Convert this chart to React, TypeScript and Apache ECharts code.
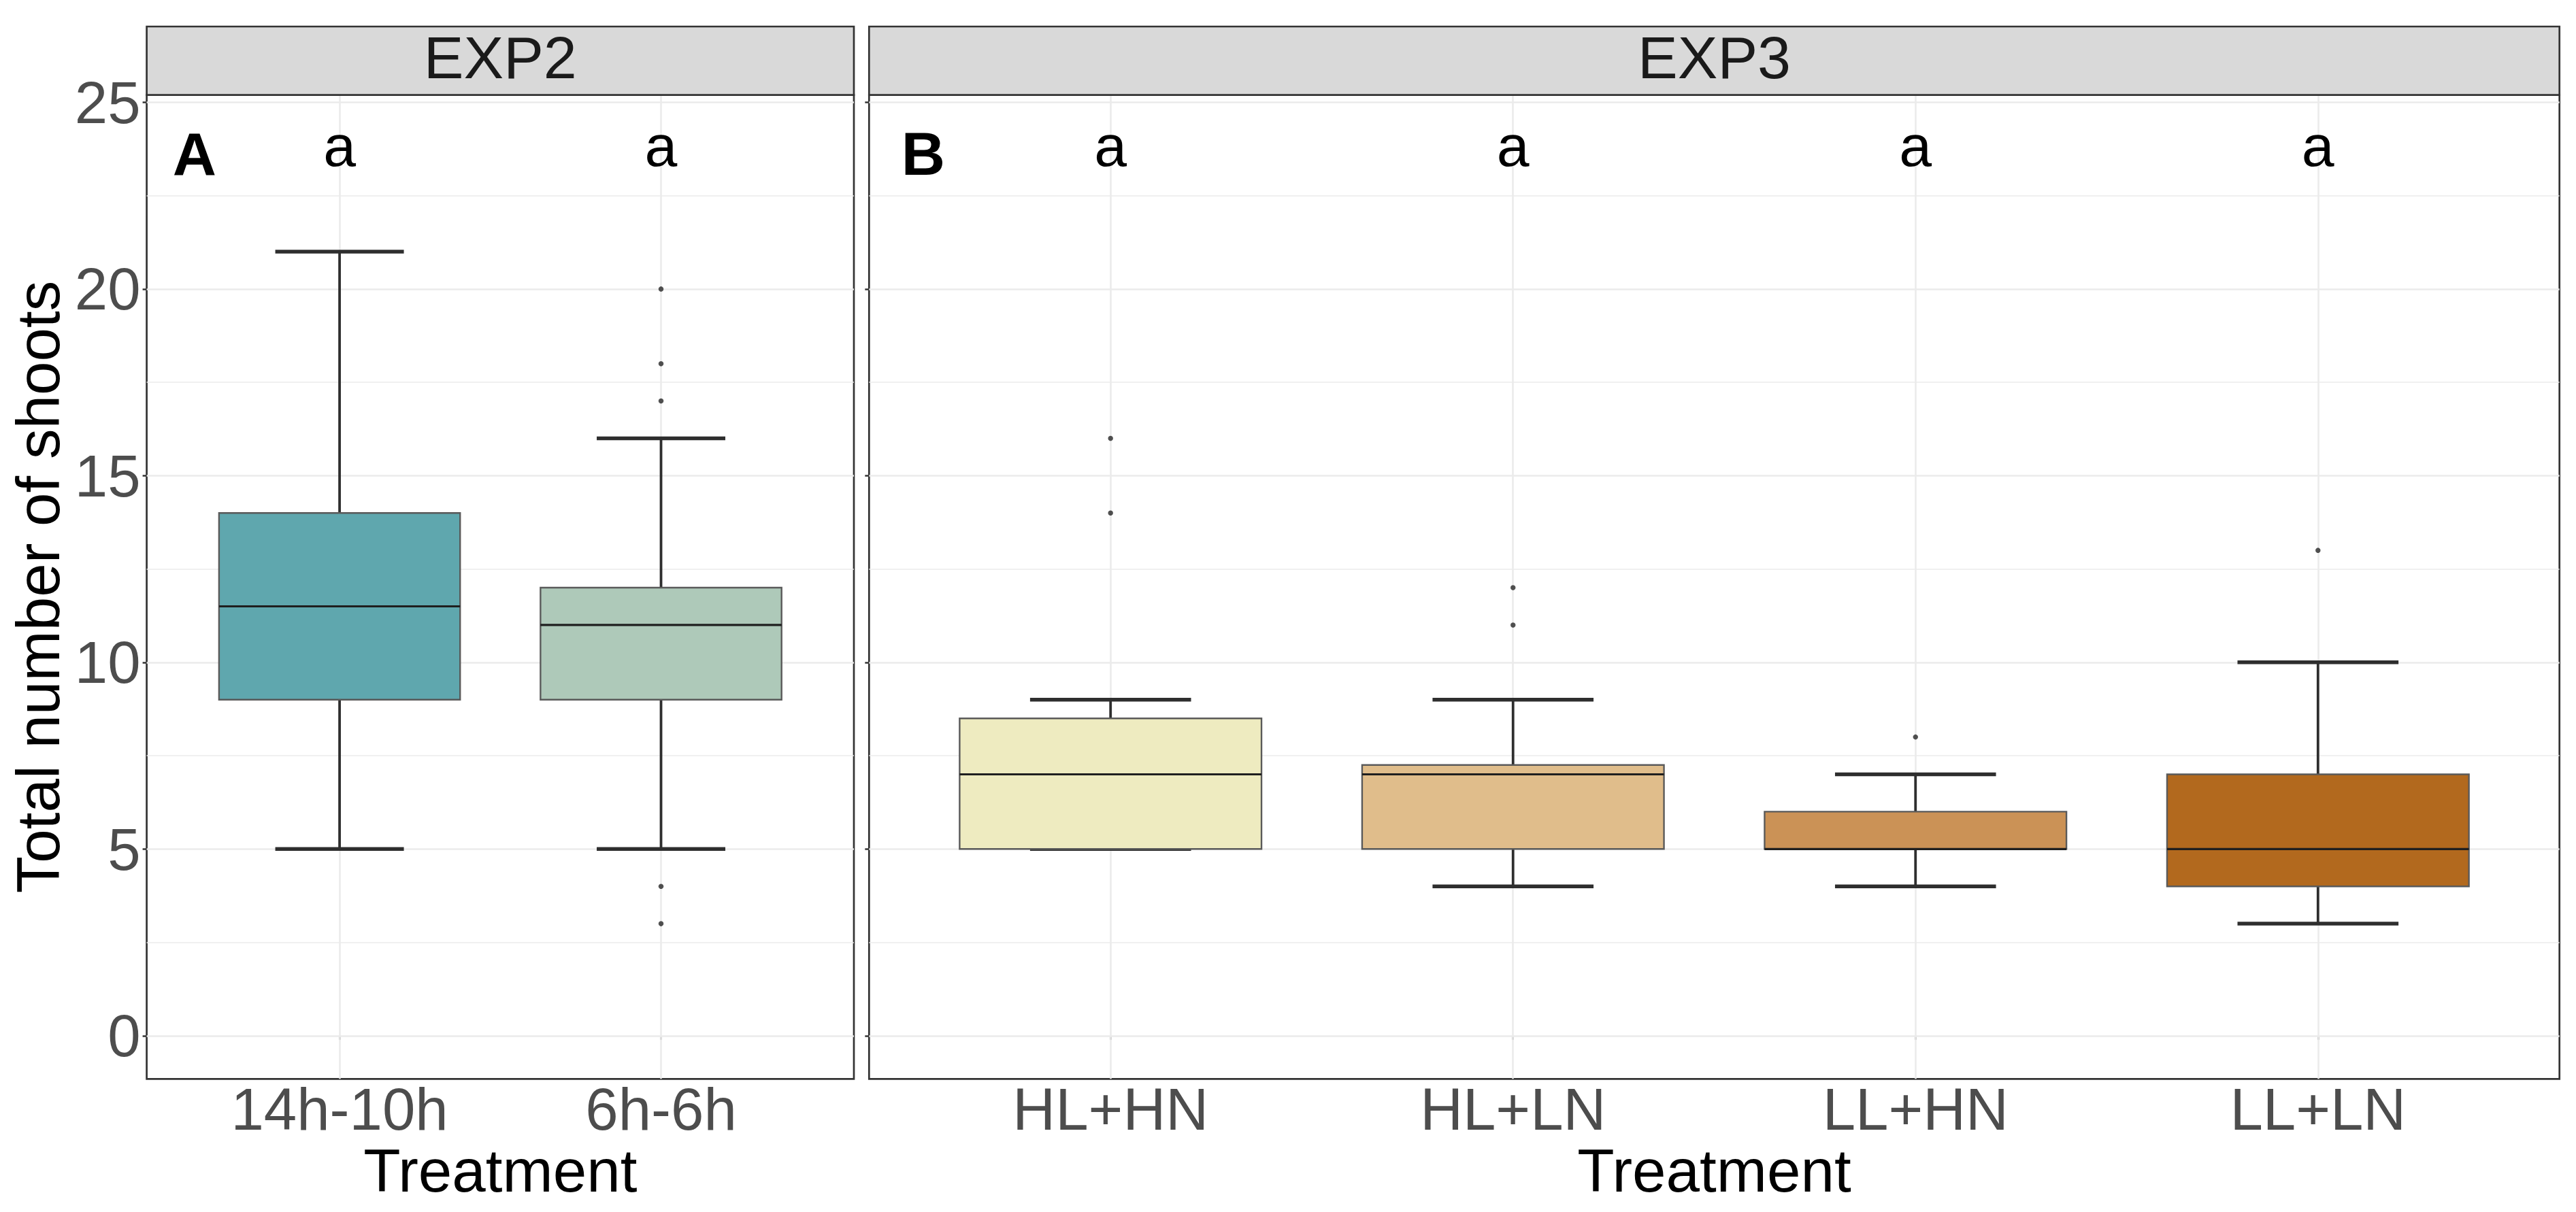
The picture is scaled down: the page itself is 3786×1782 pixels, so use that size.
import React, { useEffect, useRef } from 'react';
import * as echarts from 'echarts';

// ---------- data ----------
// whisker stats: [lower whisker, Q1, median, Q3, upper whisker]
const exp2Categories = ['14h-10h', '6h-6h'];
const exp2Stats = [
  [5, 9, 11.5, 14, 21],
  [5, 9, 11, 12, 16],
];
const exp2Outliers = [[], [20, 18, 17, 4, 3]];
const exp2Letters = ['a', 'a'];
const exp2Colors = ['#5fa7ae', '#aec9b9'];

const exp3Categories = ['HL+HN', 'HL+LN', 'LL+HN', 'LL+LN'];
const exp3Stats = [
  [5, 5, 7, 8.5, 9],
  [4, 5, 7, 7.25, 9],
  [4, 5, 5, 6, 7],
  [3, 4, 5, 7, 10],
];
const exp3Outliers = [[16, 14], [12, 11], [8], [13]];
const exp3Letters = ['a', 'a', 'a', 'a'];
const exp3Colors = ['#eeebc0', '#e0bd8b', '#cb9256', '#b2691e'];

const yTicks = [0, 5, 10, 15, 20, 25];
const yMinorTicks = [2.5, 7.5, 12.5, 17.5, 22.5];
const letterY = 23.85;
const Y_MIN = -1.157;
const Y_MAX = 25.195;

// ---------- style / layout ----------
const FONT = '"Liberation Sans", Arial, Helvetica, sans-serif';
const BOX_WIDTH = 0.75;
const CAP_WIDTH = 0.4;
const PANEL_TOP = 139.7;
const PANEL_BOTTOM = 1586.3;
const STRIP_TOP = 39;
const PANELS = [
  { left: 215.6, right: 1255, title: 'EXP2', tag: 'A', tagX: 286, tagY: 227 },
  { left: 1277.3, right: 3761.7, title: 'EXP3', tag: 'B', tagX: 1357, tagY: 226 },
];

function buildPanel(g: number, cats: string[], stats: number[][], outliers: number[][], colors: string[], letters: string[]) {
  const idx = cats.map((_, i) => i + 1);
  const xAxis = {
    type: 'value',
    gridIndex: g,
    min: 0.4,
    max: cats.length + 0.6,
    axisLine: { show: false },
    splitLine: { show: false },
    axisTick: { show: true, customValues: idx, length: 6, lineStyle: { color: '#333333', width: 2.5 } },
    axisLabel: {
      show: true,
      customValues: idx,
      formatter: (v: number) => cats[Math.round(v) - 1] ?? '',
      fontSize: 87,
      lineHeight: 87,
      fontFamily: FONT,
      color: '#4d4d4d',
      margin: 1,
    },
  };
  const yAxis = {
    type: 'value',
    gridIndex: g,
    min: Y_MIN,
    max: Y_MAX,
    axisLine: { show: false },
    splitLine: { show: false },
    axisTick: { show: true, customValues: yTicks, length: 6, lineStyle: { color: '#333333', width: 2.5 } },
    axisLabel: {
      show: g === 0,
      customValues: yTicks,
      fontSize: 87,
      lineHeight: 87,
      fontFamily: FONT,
      color: '#4d4d4d',
      margin: 9,
    },
  };

  const gridLines = [
    ...yTicks.map((v) => ({ yAxis: v, lineStyle: { width: 2.6 } })),
    ...yMinorTicks.map((v) => ({ yAxis: v, lineStyle: { width: 1.5 } })),
    ...idx.map((v) => ({ xAxis: v, lineStyle: { width: 2.6 } })),
  ];

  const series: any[] = [
    {
      type: 'scatter',
      name: 'outliers' + g,
      xAxisIndex: g,
      yAxisIndex: g,
      z: 5,
      symbol: 'circle',
      symbolSize: 7.5,
      itemStyle: { color: '#262626' },
      data: outliers.flatMap((arr, i) => arr.map((v) => [i + 1, v])),
      silent: true,
      markLine: {
        silent: true,
        z: 1,
        symbol: ['none', 'none'],
        label: { show: false },
        emphasis: { disabled: true },
        lineStyle: { color: '#ebebeb', type: 'solid' },
        data: gridLines,
      },
    },
    {
      type: 'custom',
      name: 'boxes' + g,
      xAxisIndex: g,
      yAxisIndex: g,
      z: 3,
      silent: true,
      data: stats.map((s, i) => [i + 1, ...s]),
      encode: { x: 0, y: [1, 2, 3, 4, 5] },
      renderItem: (params: any, api: any) => {
        const x = api.value(0);
        const lo = api.coord([x, api.value(1)]);
        const q1 = api.coord([x, api.value(2)]);
        const med = api.coord([x, api.value(3)]);
        const q3 = api.coord([x, api.value(4)]);
        const hi = api.coord([x, api.value(5)]);
        const cx = lo[0];
        const boxHalf = api.size([BOX_WIDTH / 2, 0])[0];
        const capHalf = api.size([CAP_WIDTH / 2, 0])[0];
        const color = colors[params.dataIndex];
        const wStyle = { stroke: '#2e2e2e', lineWidth: 3.8 };
        const cStyle = { stroke: '#2e2e2e', lineWidth: 5.5 };
        return {
          type: 'group',
          children: [
            { type: 'line', shape: { x1: cx, y1: hi[1], x2: cx, y2: lo[1] }, style: wStyle },
            { type: 'line', shape: { x1: cx - capHalf, y1: hi[1], x2: cx + capHalf, y2: hi[1] }, style: cStyle },
            { type: 'line', shape: { x1: cx - capHalf, y1: lo[1], x2: cx + capHalf, y2: lo[1] }, style: cStyle },
            {
              type: 'rect',
              shape: { x: cx - boxHalf, y: q3[1], width: boxHalf * 2, height: q1[1] - q3[1] },
              style: { fill: color, stroke: '#5a5a5a', lineWidth: 2.4 },
            },
            {
              type: 'line',
              shape: { x1: cx - boxHalf, y1: med[1], x2: cx + boxHalf, y2: med[1] },
              style: { stroke: '#1f1f1f', lineWidth: 3.2 },
            },
          ],
        };
      },
    },
    {
      type: 'custom',
      name: 'letters' + g,
      xAxisIndex: g,
      yAxisIndex: g,
      z: 6,
      silent: true,
      data: letters.map((_, i) => [i + 1, letterY]),
      encode: { x: 0, y: 1 },
      renderItem: (params: any, api: any) => {
        const p = api.coord([api.value(0), api.value(1)]);
        return {
          type: 'text',
          x: p[0],
          y: p[1],
          style: {
            text: letters[params.dataIndex],
            fill: '#000000',
            fontSize: 86,
            fontFamily: FONT,
            align: 'center',
            verticalAlign: 'middle',
            textAlign: 'center',
            textVerticalAlign: 'middle',
          },
        };
      },
    },
  ];
  return { xAxis, yAxis, series };
}

export default function App() {
  const ref = useRef<HTMLDivElement>(null);

  useEffect(() => {
    if (!ref.current) return;
    const chart = echarts.init(ref.current, null, { renderer: 'svg' });
    const p1 = buildPanel(0, exp2Categories, exp2Stats, exp2Outliers, exp2Colors, exp2Letters);
    const p2 = buildPanel(1, exp3Categories, exp3Stats, exp3Outliers, exp3Colors, exp3Letters);

    const grids = PANELS.map((p) => ({
      left: p.left,
      top: PANEL_TOP,
      width: p.right - p.left,
      height: PANEL_BOTTOM - PANEL_TOP,
      show: true,
      backgroundColor: '#ffffff',
      borderColor: '#333333',
      borderWidth: 2.7,
      containLabel: false,
      outerBoundsMode: 'none',
    }));

    const textStyle = (text: string, size: number, color: string, weight = 'normal') => ({
      text,
      x: 0,
      y: 0,
      fill: color,
      fontSize: size,
      fontWeight: weight,
      fontFamily: FONT,
      align: 'center',
      verticalAlign: 'middle',
      textAlign: 'center',
      textVerticalAlign: 'middle',
    });

    const graphic: any[] = [];
    PANELS.forEach((p) => {
      graphic.push({
        type: 'rect',
        z: 10,
        shape: { x: p.left, y: STRIP_TOP, width: p.right - p.left, height: PANEL_TOP - STRIP_TOP },
        style: { fill: '#d9d9d9', stroke: '#333333', lineWidth: 2.7 },
      });
      graphic.push({
        type: 'text',
        z: 11,
        x: (p.left + p.right) / 2,
        y: 84.3,
        style: textStyle(p.title, 88, '#1a1a1a'),
      });
      graphic.push({
        type: 'text',
        z: 11,
        x: p.tagX,
        y: p.tagY,
        style: textStyle(p.tag, 89, '#000000', 'bold'),
      });
      graphic.push({
        type: 'text',
        z: 11,
        x: (p.left + p.right) / 2,
        y: 1721,
        style: textStyle('Treatment', 89, '#000000'),
      });
    });
    graphic.push({
      type: 'text',
      z: 11,
      x: 56,
      y: (PANEL_TOP + PANEL_BOTTOM) / 2,
      rotation: Math.PI / 2,
      style: textStyle('Total number of shoots', 89, '#000000'),
    });

    chart.setOption({
      animation: false,
      backgroundColor: '#ffffff',
      grid: grids,
      xAxis: [p1.xAxis, p2.xAxis],
      yAxis: [p1.yAxis, p2.yAxis],
      series: [...p1.series, ...p2.series],
      graphic,
    } as any);

    return () => chart.dispose();
  }, []);

  return (
    <div
      ref={ref}
      style={{ position: 'fixed', left: 0, top: 0, width: '3786px', height: '1782px', background: '#ffffff' }}
    />
  );
}
